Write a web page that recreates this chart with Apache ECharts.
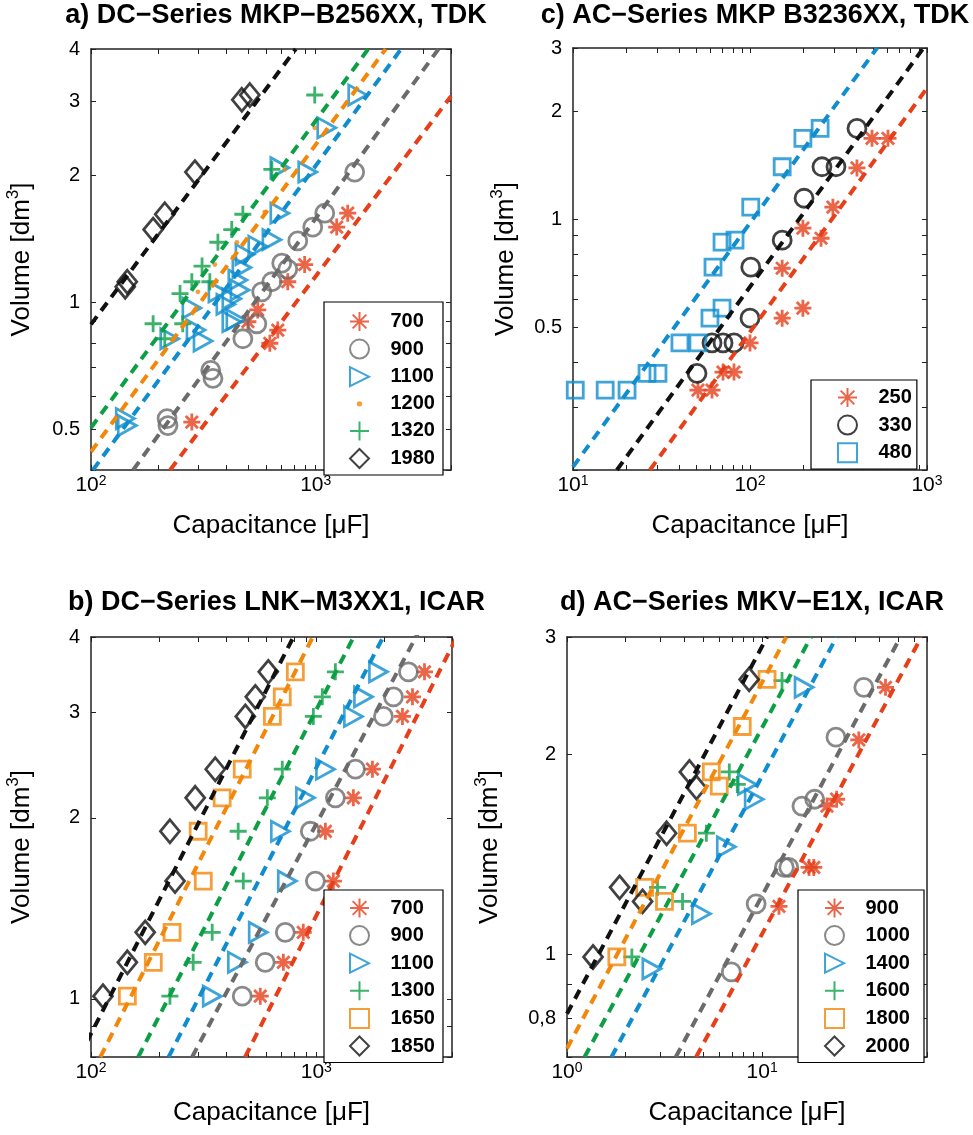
<!DOCTYPE html>
<html><head><meta charset="utf-8">
<script src="https://cdn.jsdelivr.net/npm/echarts@6/dist/echarts.min.js"></script>
<style>html,body{margin:0;padding:0;background:#fff}#c{width:973px;height:1135px}</style>
</head><body><div id="c"></div>
<script>
// ---------- DATA (capacitance in µF, volume in dm³) ----------
// a) DC-Series MKP-B256XX, TDK
const aRangeC = [100, 4000], aRangeV = [0.4, 4];
const aTicksC = [100, 1000], aTicksV = [0.5, 1, 2, 3, 4];
const a700 = [[281,0.52],[625,0.80],[678,0.86],[552,0.96],[499,0.90],[751,1.12],[893,1.23],[1240,1.51],[1388,1.63]];
const a900 = [[218,0.53],[220,0.51],[341,0.69],[349,0.66],[474,0.82],[547,0.89],[575,1.06],[638,1.12],[706,1.24],[751,1.20],[832,1.40],[970,1.51],[1097,1.63],[1491,2.04]];
const a1100 = [[142,0.53],[145,0.51],[224,0.82],[281,0.97],[293,0.86],[315,0.81],[367,1.06],[398,0.99],[423,0.90],[423,1.02],[450,1.13],[469,1.21],[460,1.07],[484,1.30],[552,1.36],[441,0.91],[638,1.41],[692,1.63],[692,2.09],[921,2.04],[1119,2.60],[1537,3.11]];
const a1200 = [[299,1.06],[356,1.23],[446,1.39],[593,1.64],[728,2.07],[990,2.60]];
const a1320 = [[189,0.89],[213,0.82],[256,0.89],[249,1.05],[281,1.12],[338,1.12],[312,1.22],[367,1.39],[423,1.49],[474,1.62],[638,2.07],[990,3.11]];
const a1980 = [[142,1.09],[145,1.12],[189,1.49],[213,1.62],[290,2.04],[469,3.03],[509,3.11]];
const aFit700 = [[225,0.40],[4000,3.09]];
const aFit900 = [[154,0.40],[3520,4.0]];
const aFit1100 = [[102,0.40],[2400,4.0]];
const aFit1200 = [[100,0.442],[2048,4.0]];
const aFit1320 = [[100,0.504],[1713,4.0]];
const aFit1980 = [[100,0.887],[815,4.0]];

// c) AC-Series MKP B3236XX, TDK
const cRangeC = [10, 1000], cRangeV = [0.2, 3];
const cTicksC = [10, 100, 1000], cTicksV = [0.5, 1, 2, 3];
const c250 = [[50.8,0.334],[61,0.334],[70.4,0.375],[81.2,0.375],[100,0.452],[152,0.53],[199,0.565],[152,0.73],[199,0.944],[252,0.885],[294,1.08],[402,1.39],[489,1.68],[602,1.68]];
const c330 = [[50.2,0.372],[61,0.452],[70.4,0.452],[81.2,0.452],[100,0.53],[101,0.735],[152,0.874],[202,1.144],[255,1.40],[306,1.40],[402,1.79]];
const c480 = [[10.3,0.334],[15.2,0.334],[20.2,0.334],[26.2,0.372],[30.2,0.372],[40.2,0.452],[50.8,0.452],[59.4,0.53],[69.5,0.565],[61.8,0.735],[69.5,0.863],[82.3,0.874],[101,1.08],[152,1.40],[199,1.68],[249,1.79]];
const cFit250 = [[27.2,0.2],[1000,2.32]];
const cFit330 = [[17.7,0.2],[955,3.0]];
const cFit480 = [[10,0.204],[522,3.0]];

// b) DC-Series LNK-M3XX1, ICAR  (volumes shared by all voltage classes)
const bRangeC = [100, 4000], bRangeV = [0.8, 4];
const bTicksC = [100, 1000], bTicksV = [1, 2, 3, 4];
const bVolume = [3.50, 3.18, 2.95, 2.41, 2.16, 1.90, 1.57, 1.29, 1.15, 1.01];
const b700  = [3020, 2671, 2411, 1774, 1460, 1097, 1190, 875, 714, 564];
const b900  = [2564, 2199, 1985, 1491, 1215, 940, 990, 728, 593, 469];
const b1100 = [1886, 1618, 1460, 1097, 894, 692, 743, 552, 446, 345];
const b1300 = [1215, 1063, 970, 706, 606, 450, 474, 345, 284, 224];
const b1650 = [807, 706, 638, 469, 382, 299, 315, 229, 189, 145];
const b1850 = [612, 536, 484, 356, 290, 224, 236, 174, 145, 113];
const bFit700 = [[483,0.8],[4624,4.3]];
const bFit900 = [[281,0.8],[3066,4.3]];
const bFit1100 = [[221,0.8],[2183,4.3]];
const bFit1300 = [[162,0.8],[1616,4.3]];
const bFit1650 = [[110,0.8],[1063,4.3]];
const bFit1850 = [[88.6,0.8],[873,4.3]];

// d) AC-Series MKV-E1X, ICAR
const dRangeC = [1, 70], dRangeV = [0.7, 3];
const dTicksC = [1, 10], dTicksV = [0.8, 1, 2, 3];
const d900  = [[42.9,2.52],[31.3,2.10],[24.1,1.71],[21.5,1.67],[17.4,1.35],[18.4,1.35],[12.2,1.18]];
const d1000 = [[33.2,2.52],[23.9,2.12],[18.6,1.71],[16.0,1.67],[13.0,1.35],[13.7,1.35],[9.32,1.19],[6.95,0.94]];
const d1400 = [[16.4,2.52],[8.39,1.80],[9.10,1.71],[6.55,1.45],[4.88,1.15],[2.72,0.95]];
const d1600 = [[12.65,2.58],[6.79,1.88],[7.46,1.80],[5.18,1.52],[2.91,1.26],[3.91,1.20],[2.15,0.99]];
const d1800 = [[10.6,2.59],[7.91,2.20],[5.49,1.88],[6.03,1.79],[4.14,1.52],[2.50,1.26],[3.16,1.20],[1.80,0.99]];
const d2000 = [[8.58,2.59],[4.24,1.88],[4.61,1.78],[3.24,1.52],[1.86,1.26],[2.44,1.20],[1.36,0.99]];
const dFit900 = [[4.59,0.7],[65.5,3.0]];
const dFit1000 = [[3.61,0.7],[51.2,3.0]];
const dFit1400 = [[1.69,0.7],[24.1,3.0]];
const dFit1600 = [[1.23,0.7],[17.8,3.0]];
const dFit1800 = [[1,0.721],[13.3,3.0]];
const dFit2000 = [[1,0.813],[10.6,3.0]];

// ---------- STYLE ----------
const FONT = 'Liberation Sans, Arial, Helvetica, sans-serif';
const L = Math.log10;
const COL = {red:'#E63F1A', gray:'#6B6B6B', blue:'#0F8DCE', green:'#0C9F45', orange:'#F2870A', black:'#111111'};
const MK = {
  ast:  {symbol:'path://M0,-1L0,1M-1,0L1,0M-0.72,-0.72L0.72,0.72M-0.72,0.72L0.72,-0.72', size:17},
  circ: {symbol:'circle', size:18},
  tri:  {symbol:'path://M0,0L1,0.5L0,1Z', size:[18,20]},
  dot:  {symbol:'path://M0,0M1,1M0.5,0.36A0.14,0.14,0,1,1,0.5,0.64A0.14,0.14,0,1,1,0.5,0.36Z', size:17, fill:true},
  plus: {symbol:'path://M0,-1L0,1M-1,0L1,0', size:17},
  sq:   {symbol:'path://M0,0L1,0L1,1L0,1Z', size:16},
  dia:  {symbol:'path://M0.5,0L1,0.5L0.5,1L0,0.5Z', size:[19,23]}
};

const option = {
  animation:false, backgroundColor:'#fff',
  textStyle:{fontFamily:FONT, color:'#000'},
  title:[], grid:[], xAxis:[], yAxis:[], legend:[], series:[]
};

function minorTicks(lo, hi){
  const out=[];
  for(let e=Math.floor(L(lo))-1;e<=Math.ceil(L(hi));e++)
    for(let k=1;k<=9;k++){const v=k*Math.pow(10,e); if(v>=lo*0.99999&&v<=hi*1.00001) out.push(L(v));}
  return out;
}

function addPanel(p){
  const gi = option.grid.length;
  option.grid.push(Object.assign({containLabel:false, outerBoundsMode:'none'}, p.grid));
  const g = p.grid;
  option.title.push({text:p.title, left:g.left+g.width/2, top:p.titleTop, textAlign:'center', padding:[2,5],
    textStyle:{fontFamily:FONT, fontSize:27, fontWeight:'bold', color:'#000'}});
  const xMin=L(p.rangeC[0]), xMax=L(p.rangeC[1]), yMin=L(p.rangeV[0]), yMax=L(p.rangeV[1]);
  const xT = minorTicks(p.rangeC[0], p.rangeC[1]), yT = minorTicks(p.rangeV[0], p.rangeV[1]);
  const axLine = {show:true, onZero:false, lineStyle:{color:'#222', width:1.5}};
  const tick = vals => ({show:true, inside:true, length:5, customValues:vals, lineStyle:{color:'#222', width:1}});
  const xi = option.xAxis.length, yi = option.yAxis.length;
  option.xAxis.push({
    gridIndex:gi, type:'value', position:'bottom', min:xMin, max:xMax, axisLine:axLine, axisTick:tick(xT),
    splitLine:{show:false},
    axisLabel:{show:true, customValues:p.ticksC.map(L), margin:4, color:'#000',
      formatter:v=>'{b|10}{s|'+Math.round(v)+'}',
      rich:{b:{fontFamily:FONT, fontSize:21, lineHeight:22, padding:[8,0,0,0], verticalAlign:'bottom', color:'#000'},
            s:{fontFamily:FONT, fontSize:14, lineHeight:14, verticalAlign:'top', color:'#000'}}},
    name:'Capacitance [μF]', nameLocation:'middle', nameGap:43,
    nameTextStyle:{fontFamily:FONT, fontSize:26, color:'#000', verticalAlign:'top'}
  },{
    gridIndex:gi, type:'value', position:'top', min:xMin, max:xMax, axisLine:axLine, axisTick:tick(xT),
    splitLine:{show:false}, axisLabel:{show:false}
  });
  option.yAxis.push({
    gridIndex:gi, type:'value', position:'left', min:yMin, max:yMax, axisLine:axLine, axisTick:tick(yT),
    splitLine:{show:false},
    axisLabel:{show:true, customValues:p.ticksV.map(L), margin:11, color:'#000', fontFamily:FONT, fontSize:20,
      formatter:v=>{const r=Math.round(Math.pow(10,v)*10)/10; return p.comma? String(r).replace('.',','):String(r);}},
    name:'{n|Volume [dm}{s|3}{n|]}', nameLocation:'middle', nameGap:p.yNameGap,
    nameTextStyle:{rich:{n:{fontFamily:FONT, fontSize:26, lineHeight:30, verticalAlign:'bottom', color:'#000'},
                         s:{fontFamily:FONT, fontSize:17, lineHeight:17, verticalAlign:'top', color:'#000'}}}
  },{
    gridIndex:gi, type:'value', position:'right', min:yMin, max:yMax, axisLine:axLine, axisTick:tick(yT),
    splitLine:{show:false}, axisLabel:{show:false}
  });
  const names=[];
  p.scatter.forEach(s=>{
    const m = MK[s.mk];
    const nm = p.key+':'+s.label;
    names.push(nm);
    option.series.push({
      type:'scatter', name:nm, xAxisIndex:xi, yAxisIndex:yi, silent:true, z:2,
      data:s.pts.map(q=>[L(q[0]),L(q[1])]),
      symbol:m.symbol, symbolSize:m.size, symbolKeepAspect:true,
      itemStyle: m.fill ? {color:COL[s.col], borderWidth:0}
                        : {color:'rgba(255,255,255,0)', borderColor:COL[s.col], borderWidth:2.8},
      emphasis:{disabled:true}
    });
  });
  p.fits.forEach(f=>{
    option.series.push({
      type:'line', name:p.key+':fit'+f.label, xAxisIndex:xi, yAxisIndex:yi, silent:true, z:3, clip:true,
      data:f.pts.map(q=>[L(q[0]),L(q[1])]), symbol:'none',
      lineStyle:{color:COL[f.col], width:4, type:[10,7], cap:'butt'}
    });
  });
  option.legend.push(Object.assign({
    orient:'vertical', selectedMode:false, itemWidth:52, itemHeight:19, itemGap:6.6, symbolKeepAspect:true,
    borderColor:'#000', borderWidth:1.2, backgroundColor:'#fff', borderRadius:0,
    textStyle:{fontFamily:FONT, fontSize:20, fontWeight:'bold', color:'#000', lineHeight:19},
    formatter:n=>n.split(':')[1], data:names
  }, p.legend));
}

addPanel({key:'a', title:'a) DC−Series MKP−B256XX, TDK', titleTop:0,
  grid:{left:91, top:49, width:360, height:421}, rangeC:aRangeC, rangeV:aRangeV, ticksC:aTicksC, ticksV:aTicksV, yNameGap:56,
  scatter:[{label:'700',pts:a700,mk:'ast',col:'red'},{label:'900',pts:a900,mk:'circ',col:'gray'},
    {label:'1100',pts:a1100,mk:'tri',col:'blue'},{label:'1200',pts:a1200,mk:'dot',col:'orange'},
    {label:'1320',pts:a1320,mk:'plus',col:'green'},{label:'1980',pts:a1980,mk:'dia',col:'black'}],
  fits:[{label:'700',pts:aFit700,col:'red'},{label:'900',pts:aFit900,col:'gray'},{label:'1100',pts:aFit1100,col:'blue'},
    {label:'1200',pts:aFit1200,col:'orange'},{label:'1320',pts:aFit1320,col:'green'},{label:'1980',pts:aFit1980,col:'black'}],
  legend:{left:324, top:302, padding:[9,8,6,25]}
});
addPanel({key:'c', title:'c) AC−Series MKP B3236XX, TDK', titleTop:0,
  grid:{left:573, top:48, width:354, height:422}, rangeC:cRangeC, rangeV:cRangeV, ticksC:cTicksC, ticksV:cTicksV, yNameGap:54,
  scatter:[{label:'250',pts:c250,mk:'ast',col:'red'},{label:'330',pts:c330,mk:'circ',col:'black'},{label:'480',pts:c480,mk:'sq',col:'blue'}],
  fits:[{label:'250',pts:cFit250,col:'red'},{label:'330',pts:cFit330,col:'black'},{label:'480',pts:cFit480,col:'blue'}],
  legend:{left:811, top:380, padding:[7,5,6,26]}
});
addPanel({key:'b', title:'b) DC−Series LNK−M3XX1, ICAR', titleTop:587,
  grid:{left:91, top:637, width:361, height:420}, rangeC:bRangeC, rangeV:bRangeV, ticksC:bTicksC, ticksV:bTicksV, yNameGap:56,
  scatter:[{label:'700',pts:b700.map((c,i)=>[c,bVolume[i]]),mk:'ast',col:'red'},
    {label:'900',pts:b900.map((c,i)=>[c,bVolume[i]]),mk:'circ',col:'gray'},
    {label:'1100',pts:b1100.map((c,i)=>[c,bVolume[i]]),mk:'tri',col:'blue'},
    {label:'1300',pts:b1300.map((c,i)=>[c,bVolume[i]]),mk:'plus',col:'green'},
    {label:'1650',pts:b1650.map((c,i)=>[c,bVolume[i]]),mk:'sq',col:'orange'},
    {label:'1850',pts:b1850.map((c,i)=>[c,bVolume[i]]),mk:'dia',col:'black'}],
  fits:[{label:'700',pts:bFit700,col:'red'},{label:'900',pts:bFit900,col:'gray'},{label:'1100',pts:bFit1100,col:'blue'},
    {label:'1300',pts:bFit1300,col:'green'},{label:'1650',pts:bFit1650,col:'orange'},{label:'1850',pts:bFit1850,col:'black'}],
  legend:{left:324, top:890, padding:[7.5,8,6,25]}
});
addPanel({key:'d', title:'d) AC−Series MKV−E1X, ICAR', titleTop:587, comma:true,
  grid:{left:567, top:637, width:360, height:420}, rangeC:dRangeC, rangeV:dRangeV, ticksC:dTicksC, ticksV:dTicksV, yNameGap:64,
  scatter:[{label:'900',pts:d900,mk:'ast',col:'red'},{label:'1000',pts:d1000,mk:'circ',col:'gray'},
    {label:'1400',pts:d1400,mk:'tri',col:'blue'},{label:'1600',pts:d1600,mk:'plus',col:'green'},
    {label:'1800',pts:d1800,mk:'sq',col:'orange'},{label:'2000',pts:d2000,mk:'dia',col:'black'}],
  fits:[{label:'900',pts:dFit900,col:'red'},{label:'1000',pts:dFit1000,col:'gray'},{label:'1400',pts:dFit1400,col:'blue'},
    {label:'1600',pts:dFit1600,col:'green'},{label:'1800',pts:dFit1800,col:'orange'},{label:'2000',pts:dFit2000,col:'black'}],
  legend:{left:798, top:890, padding:[7.5,14,6,26]}
});

const chart = echarts.init(document.getElementById('c'), null, {renderer:'canvas', width:973, height:1135});
chart.setOption(option);
</script></body></html>
